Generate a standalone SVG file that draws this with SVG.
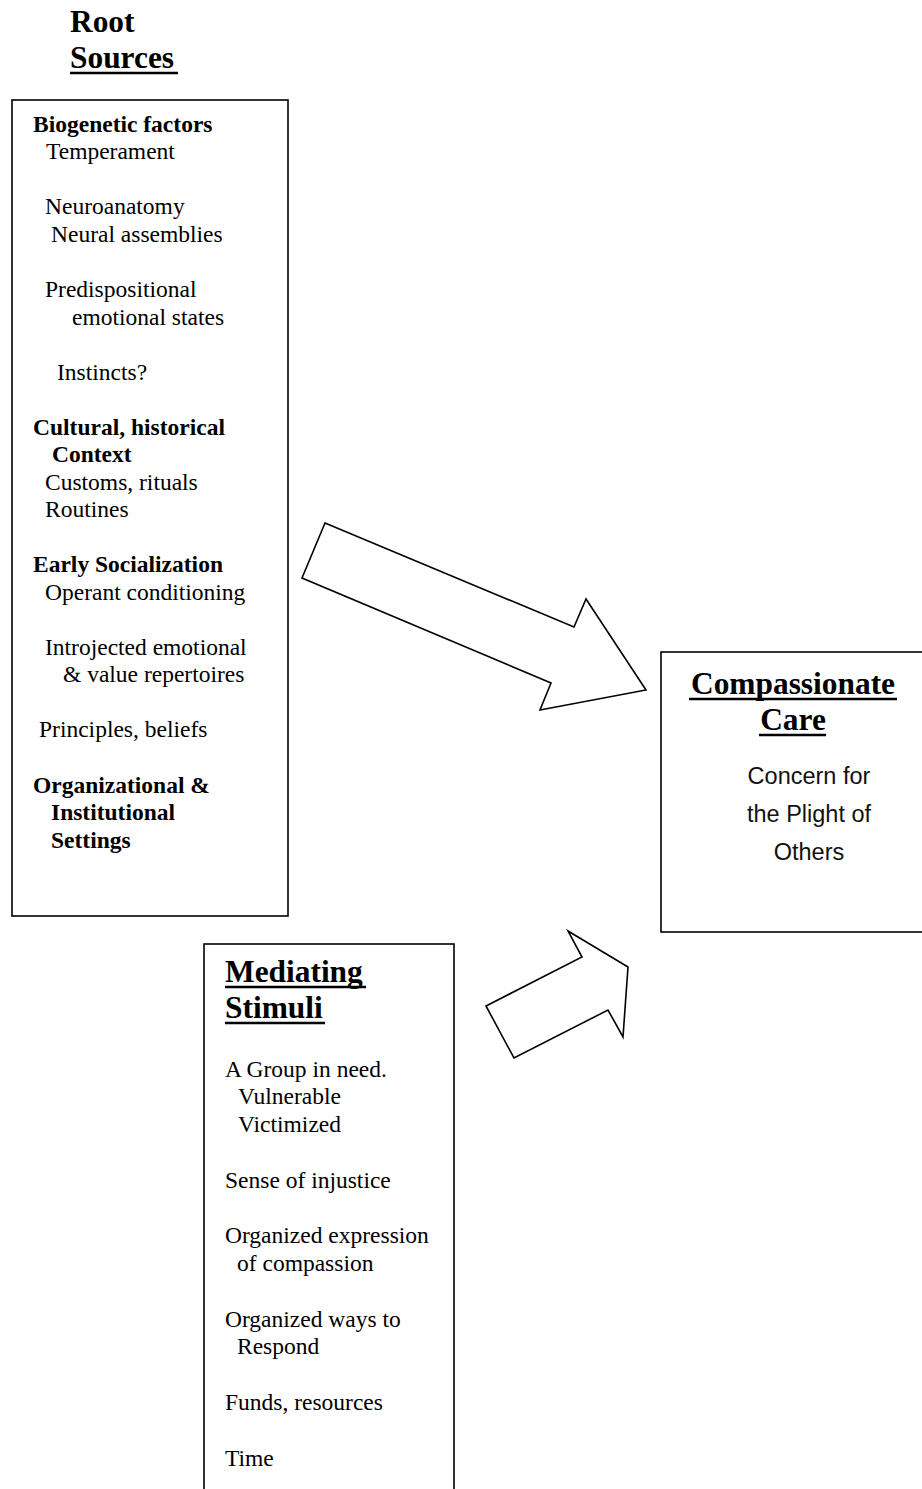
<svg xmlns="http://www.w3.org/2000/svg" width="922" height="1489" viewBox="0 0 922 1489">
<style>
.box{fill:#fff;stroke:#000;stroke-width:1.6}
.arrow{fill:#fff;stroke:#000;stroke-width:1.6;stroke-linejoin:miter}
.t{font-family:"Liberation Serif","Times New Roman",serif;font-size:23.5px;fill:#000}
.b{font-weight:bold}
.h{font-family:"Liberation Serif","Times New Roman",serif;font-size:31.4px;font-weight:bold;fill:#000}
.ul{stroke:#000;stroke-width:2.5}
.g{font-family:"Liberation Sans",Arial,sans-serif;font-size:23.5px;fill:#111;text-anchor:middle}
</style>
<rect width="922" height="1489" fill="#fff"/>
<g id="title-root">
<text class="h" x="70" y="32">Root</text>
<text class="h" x="70" y="68">Sources</text>
<line class="ul" x1="70" y1="73" x2="178" y2="73"/>
</g>
<g id="root-sources">
<rect class="box" x="12" y="100" width="276" height="816"/>
<text class="t b" x="33" y="131.5">Biogenetic factors</text>
<text class="t" x="46" y="159">Temperament</text>
<text class="t" x="45" y="214">Neuroanatomy</text>
<text class="t" x="51" y="242">Neural assemblies</text>
<text class="t" x="45" y="297">Predispositional</text>
<text class="t" x="72" y="324.5">emotional states</text>
<text class="t" x="57" y="379.5">Instincts?</text>
<text class="t b" x="33" y="434.5">Cultural, historical</text>
<text class="t b" x="52" y="462">Context</text>
<text class="t" x="45" y="489.5">Customs, rituals</text>
<text class="t" x="45" y="517">Routines</text>
<text class="t b" x="33" y="572">Early Socialization</text>
<text class="t" x="45" y="599.5">Operant conditioning</text>
<text class="t" x="45" y="654.5">Introjected emotional</text>
<text class="t" x="63" y="682">&amp; value repertoires</text>
<text class="t" x="39" y="737">Principles, beliefs</text>
<text class="t b" x="33" y="792.5">Organizational &amp;</text>
<text class="t b" x="51" y="820">Institutional</text>
<text class="t b" x="51" y="847.5">Settings</text>
</g>
<g id="compassionate-care">
<rect class="box" x="661" y="652" width="280" height="280"/>
<text class="h" x="793" y="694" text-anchor="middle">Compassionate</text>
<line class="ul" x1="689" y1="699" x2="897" y2="699"/>
<text class="h" x="793" y="730" text-anchor="middle">Care</text>
<line class="ul" x1="759" y1="735" x2="826" y2="735"/>
<text class="g" x="809" y="784">Concern for</text>
<text class="g" x="809" y="822">the Plight of</text>
<text class="g" x="809" y="860">Others</text>
</g>
<g id="mediating-stimuli">
<rect class="box" x="204" y="944" width="250" height="600"/>
<text class="h" x="225" y="982">Mediating</text>
<line class="ul" x1="225" y1="987" x2="366" y2="987"/>
<text class="h" x="225" y="1018">Stimuli</text>
<line class="ul" x1="225" y1="1023" x2="325" y2="1023"/>
<text class="t" x="225" y="1076.5">A Group in need.</text>
<text class="t" x="238" y="1104.3">Vulnerable</text>
<text class="t" x="238" y="1132">Victimized</text>
<text class="t" x="225" y="1187.5">Sense of injustice</text>
<text class="t" x="225" y="1243">Organized expression</text>
<text class="t" x="237" y="1270.8">of compassion</text>
<text class="t" x="225" y="1326.5">Organized ways to</text>
<text class="t" x="237" y="1354.3">Respond</text>
<text class="t" x="225" y="1410">Funds, resources</text>
<text class="t" x="225" y="1465.5">Time</text>
</g>
<g id="connectors">
<polygon class="arrow" points="325,523 574,627 586,599 646,690 540,710 551,683 302,578"/>
<polygon class="arrow" points="486,1006 582,957 568,931 628,967 623,1037 608,1010 514,1058"/>
</g>
</svg>
